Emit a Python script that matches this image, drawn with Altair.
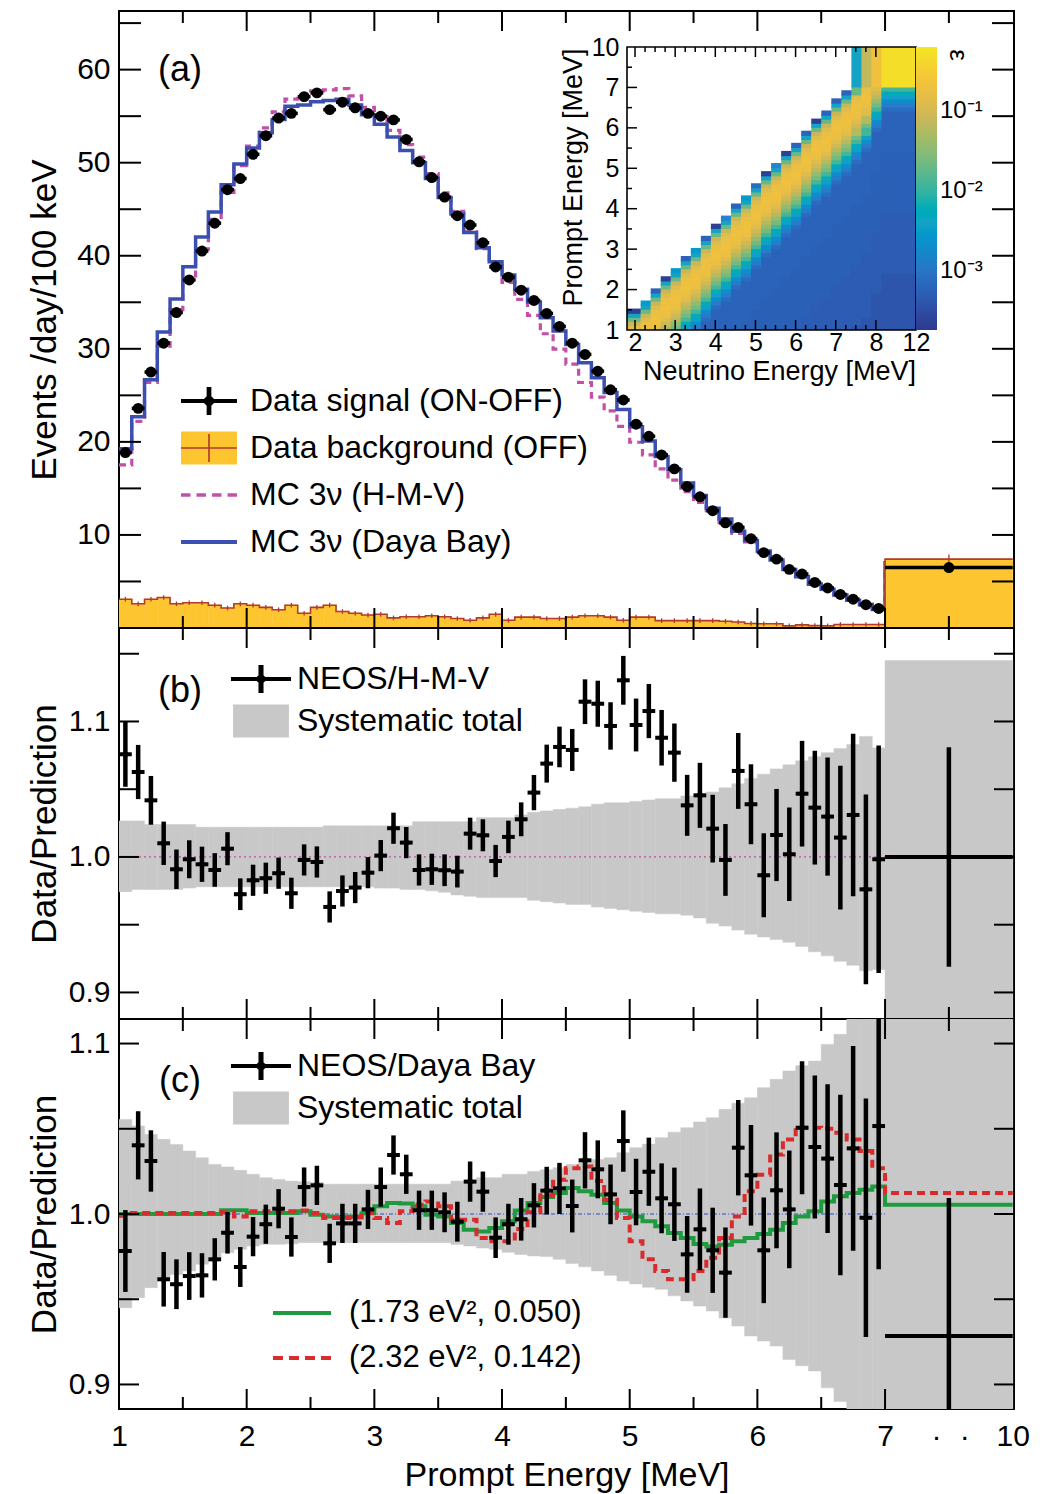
import altair as alt
import pandas as pd

FONT = "Liberation Sans"

# ---------------- data ----------------
# prompt-energy bins (MeV): 0.1 MeV bins from 1 to 7, plus one 7-10 MeV bin
bin_edges_mev = [round(1.0 + 0.1 * i, 1) for i in range(61)] + [10.0]

signal = [18.85, 23.6, 27.5, 30.6, 33.9, 37.4, 40.5, 43.5, 47.1, 48.3,
          50.9, 52.9, 54.8, 55.3, 57.1, 57.5, 55.7, 56.5, 55.9, 55.3,
          55.0, 54.6, 52.5, 50.1, 48.4, 46.3, 44.3, 43.3, 41.4, 38.8,
          37.7, 36.3, 35.2, 33.8, 32.4, 30.6, 29.4, 27.6, 25.6, 24.5,
          21.9, 20.6, 18.6, 17.1, 15.2, 14.1, 12.6, 11.3, 10.8, 9.6,
          8.1, 7.4, 6.3, 5.8, 4.9, 4.3, 3.6, 3.1, 2.5, 2.1, 6.5]

mc_hmv = [17.52, 22.21, 26.40, 30.29, 34.21, 37.46, 40.72, 43.92, 46.81, 49.67,
          51.79, 53.74, 55.47, 56.82, 57.23, 57.71, 57.83, 57.95, 57.19, 55.95,
          54.95, 53.47, 51.95, 50.59, 48.84, 46.76, 44.78, 42.57, 40.75, 38.92,
          37.15, 35.32, 33.60, 31.62, 29.97, 28.36, 26.38, 24.80, 23.34, 21.67,
          19.96, 18.60, 17.10, 15.88, 14.64, 13.49, 12.34, 11.32, 10.16, 9.24,
          8.21, 7.28, 6.29, 5.54, 4.73, 4.18, 3.55, 3.01, 2.56, 2.10, 6.5]

mc_daya = [19.27, 22.69, 26.67, 31.82, 35.36, 38.81, 42.01, 44.69, 47.62, 49.85,
           51.59, 53.22, 54.63, 56.06, 56.21, 56.55, 56.67, 56.81, 56.21, 55.15,
           54.14, 52.77, 51.30, 49.99, 48.29, 46.25, 44.50, 42.49, 40.86, 39.35,
           37.93, 36.41, 35.02, 33.34, 31.92, 30.46, 28.50, 26.90, 25.31, 23.49,
           21.62, 20.10, 18.43, 17.00, 15.57, 14.23, 12.87, 11.70, 10.40, 9.39,
           8.28, 7.30, 6.28, 5.52, 4.71, 4.16, 3.54, 2.99, 2.51, 2.00, 7.0]

background = [3.09, 2.60, 3.09, 3.28, 2.60, 2.71, 2.71, 2.45, 2.15, 2.60,
              2.45, 2.22, 1.96, 2.45, 1.58, 2.22, 2.45, 1.77, 1.58, 1.39,
              1.47, 1.09, 1.21, 1.21, 1.32, 1.21, 1.02, 0.83, 1.09, 1.47,
              0.83, 1.17, 1.17, 1.02, 1.02, 1.17, 1.32, 1.32, 1.17, 0.83,
              1.17, 1.17, 0.79, 0.79, 0.79, 0.79, 0.79, 0.72, 0.64, 0.49,
              0.45, 0.45, 0.23, 0.34, 0.26, 0.23, 0.38, 0.38, 0.38, 0.38, 7.4]
bg_err = [0.25] * 60 + [0.5]

ratio_hmv = [1.0758, 1.0627, 1.0418, 1.0101, 0.9909, 0.9983, 0.9946, 0.9904, 1.0061, 0.9725,
             0.9828, 0.9843, 0.9880, 0.9732, 0.9978, 0.9963, 0.9631, 0.9749, 0.9774, 0.9884,
             1.0010, 1.0212, 1.0106, 0.9904, 0.9909, 0.9902, 0.9892, 1.0172, 1.0160, 0.9970,
             1.0148, 1.0278, 1.0475, 1.0689, 1.0812, 1.0790, 1.1146, 1.1131, 1.0967, 1.1304,
             1.0974, 1.1077, 1.0880, 1.0770, 1.0381, 1.0455, 1.0209, 0.9978, 1.0635, 1.0389,
             0.9865, 1.0162, 1.0020, 1.0467, 1.0364, 1.0298, 1.0143, 1.0310, 0.9761, 0.9983, 1.0]

ratio_daya = [0.9783, 1.0403, 1.0311, 0.9617, 0.9588, 0.9636, 0.9640, 0.9734, 0.9890, 0.9689,
              0.9867, 0.9940, 1.0031, 0.9865, 1.0158, 1.0168, 0.9828, 0.9945, 0.9945, 1.0027,
              1.0158, 1.0346, 1.0233, 1.0022, 1.0022, 1.0010, 0.9955, 1.0190, 1.0131, 0.9861,
              0.9940, 0.9969, 1.0051, 1.0137, 1.0150, 1.0047, 1.0315, 1.0262, 1.0115, 1.0428,
              1.0129, 1.0248, 1.0092, 1.0057, 0.9763, 0.9910, 0.9787, 0.9656, 1.0389, 1.0227,
              0.9787, 1.0139, 1.0027, 1.0506, 1.0393, 1.0325, 1.0170, 1.0385, 0.9978, 1.0516, 0.9284]

stat_err = [0.024, 0.020, 0.018, 0.016, 0.0146, 0.014, 0.013, 0.0124, 0.0122, 0.0117,
            0.0115, 0.0115, 0.0115, 0.0115, 0.0115, 0.0115, 0.0115, 0.0115, 0.0115, 0.0115,
            0.0115, 0.0115, 0.0115, 0.0115, 0.0115, 0.0117, 0.0117, 0.0118, 0.0118, 0.0119,
            0.012, 0.0125, 0.013, 0.014, 0.015, 0.0155, 0.0165, 0.017, 0.0175, 0.018,
            0.0195, 0.020, 0.0205, 0.0215, 0.0225, 0.024, 0.025, 0.0265, 0.028, 0.0295,
            0.031, 0.034, 0.0345, 0.039, 0.042, 0.0436, 0.053, 0.060, 0.070, 0.084, 0.081]

syst_b_hi = [1.0266, 1.0266, 1.024, 1.024, 1.024, 1.024, 1.022, 1.022, 1.022, 1.022,
             1.022, 1.022, 1.022, 1.022, 1.022, 1.022, 1.023, 1.023, 1.023, 1.023,
             1.023, 1.023, 1.023, 1.026, 1.026, 1.026, 1.026, 1.026, 1.029, 1.029,
             1.029, 1.031, 1.033, 1.034, 1.035, 1.036, 1.037, 1.039, 1.040, 1.040,
             1.041, 1.042, 1.043, 1.043, 1.045, 1.046, 1.048, 1.051, 1.054, 1.058,
             1.061, 1.065, 1.068, 1.071, 1.074, 1.077, 1.080, 1.083, 1.089, 1.0805, 1.145]
syst_b_lo = [0.9744, 0.976, 0.976, 0.976, 0.976, 0.977, 0.978, 0.978, 0.978, 0.978,
             0.978, 0.978, 0.978, 0.978, 0.978, 0.978, 0.978, 0.978, 0.978, 0.978,
             0.977, 0.977, 0.976, 0.976, 0.975, 0.974, 0.972, 0.971, 0.970, 0.970,
             0.970, 0.970, 0.968, 0.967, 0.966, 0.965, 0.965, 0.963, 0.962, 0.961,
             0.960, 0.959, 0.958, 0.958, 0.957, 0.955, 0.951, 0.949, 0.946, 0.943,
             0.941, 0.939, 0.937, 0.934, 0.930, 0.927, 0.923, 0.920, 0.916, 0.917, 0.85]

syst_c_hi = [1.0555, 1.0516, 1.0467, 1.0438, 1.0408, 1.0369, 1.0330, 1.0291, 1.0276, 1.0256,
             1.0233, 1.0213, 1.0203, 1.0193, 1.0190, 1.0185, 1.0175, 1.0175, 1.0175, 1.0175,
             1.0175, 1.0175, 1.0175, 1.0175, 1.0175, 1.0175, 1.0193, 1.0193, 1.0213, 1.0213,
             1.0233, 1.0233, 1.0250, 1.0260, 1.0272, 1.0290, 1.0301, 1.0320, 1.0330, 1.0360,
             1.0389, 1.0410, 1.0448, 1.0480, 1.0506, 1.0540, 1.0565, 1.0614, 1.0650, 1.0682,
             1.0741, 1.0790, 1.0839, 1.0870, 1.0897, 1.0995, 1.1054, 1.13, 1.13, 1.13, 1.13]
syst_c_lo = [0.9450, 0.9509, 0.9568, 0.9627, 0.9645, 0.9666, 0.9705, 0.9744, 0.9773, 0.9793,
             0.9812, 0.9822, 0.9822, 0.9825, 0.9832, 0.9832, 0.9832, 0.9832, 0.9832, 0.9832,
             0.9832, 0.9832, 0.9832, 0.9832, 0.9832, 0.9832, 0.9822, 0.9812, 0.9800, 0.9793,
             0.9775, 0.9763, 0.9754, 0.9750, 0.9734, 0.9710, 0.9690, 0.9666, 0.9640, 0.9607,
             0.9590, 0.9570, 0.9558, 0.9520, 0.9490, 0.9460, 0.9431, 0.9390, 0.9343, 0.9284,
             0.9255, 0.9225, 0.9147, 0.9110, 0.9079, 0.8980, 0.8900, 0.87, 0.87, 0.87, 0.87]

model_173 = [1.0, 1.0, 1.0, 1.0, 1.0, 1.0, 1.0, 1.0, 1.0022, 1.0022,
             1.0006, 1.0006, 1.0006, 1.0006, 1.0016, 0.9996, 0.9985, 0.9982, 0.9986, 1.0005,
             1.0045, 1.0065, 1.0062, 1.0045, 0.9995, 0.9986, 0.9947, 0.9908, 0.9898, 0.9918,
             0.9957, 1.0020, 1.0065, 1.0100, 1.0123, 1.0152, 1.0133, 1.0113, 1.0065, 1.0020,
             0.9986, 0.9957, 0.9928, 0.9889, 0.9859, 0.9824, 0.9810, 0.9820, 0.9840, 0.9859,
             0.9883, 0.9908, 0.9947, 0.9986, 1.0016, 1.0074, 1.0104, 1.0123, 1.0143, 1.0162, 1.0055]
model_232 = [0.9990, 1.0006, 1.0006, 1.0006, 1.0006, 1.0006, 1.0006, 1.0006, 1.0010, 0.9986,
             1.0016, 1.0016, 1.0016, 1.0016, 1.0020, 1.0006, 0.9976, 0.9976, 0.9980, 1.0006,
             0.9976, 0.9947, 1.0016, 1.0055, 1.0074, 1.0045, 0.9967, 0.9967, 0.9859, 0.9840,
             0.9840, 0.9912, 1.0010, 1.0110, 1.0201, 1.0269, 1.0279, 1.0193, 1.0084, 0.9976,
             0.9840, 0.9734, 0.9666, 0.9617, 0.9617, 0.9666, 0.9744, 0.9859, 0.9986, 1.0133,
             1.0231, 1.0349, 1.0437, 1.0506, 1.0506, 1.0500, 1.0477, 1.0437, 1.0369, 1.0269, 1.0123]

# inset: detector response (efficiency) map
inset_nu_edges = [1.8, 2.14, 2.39, 2.64, 2.89, 3.14, 3.39, 3.64, 3.89, 4.14, 4.39, 4.64, 4.89,
                  5.14, 5.39, 5.64, 5.89, 6.14, 6.39, 6.64, 6.89, 7.14, 7.39, 7.64, 7.89, 8.14, 9.0]
inset_col_top = [1.5, 1.7, 2.0, 2.3, 2.5, 2.8, 3.0, 3.3, 3.6, 3.8, 4.1, 4.3, 4.6, 4.9, 5.1,
                 5.4, 5.6, 5.9, 6.2, 6.4, 6.7, 6.9, 7.15, 7.45, 8.0, 8.5]
inset_edge_eff = [2.2e-4, 3e-3, 6e-4, 2.2e-4, 3e-3, 6e-4, 3e-3, 6e-4, 2.2e-4, 1.5e-3, 6e-4,
                  3e-3, 8e-4, 2.2e-4, 1.5e-3, 2.2e-4, 6e-4, 6e-4, 2.2e-4, 6e-4, 6e-4, 6e-4]
inset_depth_eff = [6e-4, 0.004, 0.02, 0.08, 0.13, 0.17, 0.19, 0.2, 0.19, 0.17,
                   0.13, 0.09, 0.06, 0.035, 0.022, 0.012, 0.006, 0.0035, 0.002, 0.0012,
                   0.0008, 0.0006, 0.0006, 0.0006, 0.0006, 0.0006, 0.0006, 0.0006, 0.0006, 0.0006,
                   0.0006, 0.00055, 0.00055, 0.00055, 0.00055, 0.00055, 0.00055, 0.00055, 0.00055,
                   0.00055, 0.00055, 0.00055, 0.00055, 0.00055, 0.00055, 0.00055, 0.00048, 0.00048,
                   0.00048, 0.00048, 0.00048, 0.00048, 0.00048, 0.00048, 0.00048, 0.00048, 0.00048,
                   0.00048, 0.00048, 0.00048, 0.00048, 0.0004, 0.0004, 0.0004, 0.0004, 0.0004,
                   0.0004, 0.0004, 0.0004, 0.0004, 0.0004, 0.0004, 0.0004, 0.0004, 0.0004, 0.0004]
inset_high_cols = [22, 23, 24, 25]
inset_high_eff = [0.004, 0.07, 0.2, 0.5]

# axis ticks / labels
x_label_vals = [1, 2, 3, 4, 5, 6, 7, 7.4, 7.62, 8]
x_tick_major = [2, 3, 4, 5, 6, 7]
x_tick_minor = [1.5, 2.5, 3.5, 4.5, 5.5, 6.5, 7.5]
ya_labels = [10, 20, 30, 40, 50, 60]
ya_ticks = [5, 10, 15, 20, 25, 30, 35, 40, 45, 50, 55, 60, 65]
yb_labels = [0.9, 1.0, 1.1]
yb_ticks = [0.9, 0.95, 1.0, 1.05, 1.1, 1.15]
yc_ticks = [0.9, 0.95, 1.0, 1.05, 1.1]
ix_labels = [2, 3, 4, 5, 6, 7, 8, 9]
ix_major = [2, 3, 4, 5, 6, 7, 8]
ix_minor = [2.25, 2.5, 2.75, 3.25, 3.5, 3.75, 4.25, 4.5, 4.75, 5.25, 5.5, 5.75,
            6.25, 6.5, 6.75, 7.25, 7.5, 7.75]
iy_labels = [1, 2, 3, 4, 5, 6, 7, 8]
iy_major = [2, 3, 4, 5, 6, 7]
iy_minor = [1.5, 2.5, 3.5, 4.5, 5.5, 6.5, 7.5]
cbar_labels = [0.001, 0.01, 0.1]

leg_a_labels = ["Data signal (ON-OFF)", "Data background (OFF)", "MC 3\u03bd (H-M-V)", "MC 3\u03bd (Daya Bay)"]
leg_b_labels = ["NEOS/H-M-V", "Systematic total"]
leg_c_labels = ["NEOS/Daya Bay", "Systematic total "]
leg_m_labels = ["(1.73 eV\u00b2, 0.050)", "(2.32 eV\u00b2, 0.142)"]

# ---------------- styles ----------------
YEL = "#fdc52f"
BGRED = "#b23a2e"
MAG = "#c24fa8"
BLUE = "#3b4fb0"
GRAY = "#c8c8c8"
GREEN = "#1f9a3f"
RED = "#d92b2b"
PALETTE = ["#2d3a8c", "#2c5db5", "#2a80cc", "#19a2c6", "#3bb49e", "#86bb78", "#cdb75a", "#f5c23a", "#f2e622"]

W = 895
HA, HB, HC = 617, 391, 390
IN_L, IN_R, IN_T, IN_B = 508, 797, 36, 319
TICK_FS = 30
TITLE_FS = 35
LEG_FS = 32
CELL_OVERLAP = 0.03   # tiny overlap of heat-map cells to hide antialiasing seams


def disp(e):
    # axis break: 7-10 MeV is drawn as one unit
    return e if e <= 7.0 else 7.0 + (e - 7.0) / 3.0


lo = [disp(e) for e in bin_edges_mev[:-1]]
hi = [disp(e) for e in bin_edges_mev[1:]]
mid = [(a + b) / 2 for a, b in zip(lo, hi)]

bins = pd.DataFrame(dict(
    lo=lo, hi=hi, mid=mid, zero=[0.0] * len(lo),
    sig=signal, bg=background,
    bglo=[b - e for b, e in zip(background, bg_err)],
    bghi=[b + e for b, e in zip(background, bg_err)],
    rb=ratio_hmv, rblo=[r - e for r, e in zip(ratio_hmv, stat_err)],
    rbhi=[r + e for r, e in zip(ratio_hmv, stat_err)],
    rc=ratio_daya, rclo=[r - e for r, e in zip(ratio_daya, stat_err)],
    rchi=[r + e for r, e in zip(ratio_daya, stat_err)],
    sblo=syst_b_lo, sbhi=syst_b_hi, sclo=syst_c_lo, schi=syst_c_hi,
))

step = pd.DataFrame(dict(
    x=lo + [hi[-1]],
    hmv=mc_hmv + [mc_hmv[-1]], db=mc_daya + [mc_daya[-1]], bg=background + [background[-1]],
    g=model_173 + [model_173[-1]], r=model_232 + [model_232[-1]],
))

ref_line = pd.DataFrame(dict(x0=[1.0], x1=[7.0], y=[1.0]))

# inset cells
cells = []
for k in range(len(inset_col_top)):
    x0, x1 = inset_nu_edges[k], inset_nu_edges[k + 1]
    top = inset_col_top[k]
    for j in range(60):
        y0 = 1.0 + 0.1 * j
        y1 = y0 + 0.1
        if y1 > top + 1e-6:
            continue
        d = int(round((top - y1) / 0.1))
        if d == 0 and k < len(inset_edge_eff):
            v = inset_edge_eff[k]
        else:
            v = inset_depth_eff[min(d, len(inset_depth_eff) - 1)]
        cells.append(dict(x0=x0, x1=x1, y0=y0, y1=y1, eff=v))
for k, v in zip(inset_high_cols, inset_high_eff):
    cells.append(dict(x0=inset_nu_edges[k], x1=inset_nu_edges[k + 1], y0=7.0, y1=8.0, eff=v))
cells = pd.DataFrame(cells)
cells["x1d"] = [min(v + CELL_OVERLAP, 9.0) for v in cells["x1"]]
cells["y1d"] = [min(v + CELL_OVERLAP, 8.0) if v < 7.999 else v for v in cells["y1"]]

# ---------------- scales / axes ----------------
XS = alt.Scale(domain=[1.0, 8.01], nice=False, zero=False)
YA = alt.Scale(domain=[0.0, 66.3], nice=False, zero=False)
YB = alt.Scale(domain=[0.8804, 1.169], nice=False, zero=False)
YC = alt.Scale(domain=[0.8856, 1.1144], nice=False, zero=False)


def yaxis(values, fmt, title, h):
    return alt.Axis(values=values, format=fmt, title=title, ticks=False, domain=False, grid=False,
                    labelFontSize=TICK_FS, labelPadding=9, labelFlush=False, labelOverlap=False,
                    titleFontSize=TITLE_FS, titleFontWeight="normal", titleX=-64, titleY=h / 2,
                    titleAngle=270, titleAlign="center", titleBaseline="alphabetic")


AXA = yaxis(ya_labels, "d", "Events /day/100 keV", HA)
AXB = yaxis(yb_labels, ".1f", "Data/Prediction", HB)
AXC = yaxis(yb_labels, ".1f", "Data/Prediction", HC)
XAXC = alt.Axis(values=x_label_vals, ticks=False, domain=False, grid=False,
                labelExpr="datum.value >= 8 ? '10' : (datum.value > 7.05 ? '\u00b7' : format(datum.value, 'd'))",
                labelFontSize=TICK_FS, labelPadding=12, labelFlush=False, labelOverlap=False,
                title="Prompt Energy [MeV]", titleFontSize=34, titleFontWeight="normal",
                titleX=W / 2, titleY=76, titleAlign="center", titleBaseline="alphabetic")


def rect_path(x0, x1, y0, y1):
    return f"M{x0},{y0}H{x1}V{y1}H{x0}Z"


# zero-area marks at y=+-1 so every legend symbol has the same height
SYM_EXTENT = "M0,-1L0,-1M0,1L0,1"


def xticks(xax, h):
    layers = []
    for vals, ln in ((x_tick_major, 20), (x_tick_minor, 12)):
        df = pd.DataFrame({"v": vals})
        for y0, y1 in ((h, h - ln), (0, ln)):
            layers.append(alt.Chart(df).mark_rule(color="black", strokeWidth=2).encode(
                x=alt.X("v:Q", scale=XS, axis=xax), y=alt.value(y0), y2=alt.value(y1)))
    return layers


def yticks(vals, ys, yax, ln):
    df = pd.DataFrame({"v": vals})
    return [alt.Chart(df).mark_rule(color="black", strokeWidth=2).encode(
        y=alt.Y("v:Q", scale=ys, axis=yax), x=alt.value(x0), x2=alt.value(x1))
        for x0, x1 in ((0, ln), (W, W - ln))]


def panel_label(txt, x, y):
    return alt.Chart(pd.DataFrame({"t": [txt]})).mark_text(
        fontSize=36, align="center", baseline="middle", color="black").encode(
        text="t:N", x=alt.value(x), y=alt.value(y))


def legend_layer(labels, colors, shapes, r, lx, ly, offset, field, fs=LEG_FS, label_opacity=1):
    leg = alt.Legend(orient="none", legendX=lx, legendY=ly, title=None, labelFontSize=fs,
                     labelOffset=offset, symbolSize=(2 * r) ** 2, symbolStrokeWidth=0,
                     rowPadding=0, labelLimit=800, labelColor="black", padding=0,
                     labelOpacity=label_opacity)
    shapes = [s + SYM_EXTENT for s in shapes]
    return alt.Chart(pd.DataFrame({field: labels})).mark_point(filled=True, clip=True, opacity=1).encode(
        x=alt.value(W / 2), y=alt.value(-3000),
        color=alt.Color(f"{field}:N", scale=alt.Scale(domain=labels, range=colors), legend=leg),
        shape=alt.Shape(f"{field}:N", scale=alt.Scale(domain=labels, range=shapes), legend=leg))


# ---------------- panel (a) ----------------
xa = lambda f: alt.X(f, type="quantitative", scale=XS, axis=None)
ya = lambda f: alt.Y(f, type="quantitative", scale=YA, axis=AXA)

hmv_line = alt.Chart(step).mark_line(interpolate="step-after", color=MAG, strokeWidth=3.2,
                                     strokeDash=[7, 5], clip=True).encode(x=xa("x"), y=ya("hmv"))
db_line = alt.Chart(step).mark_line(interpolate="step-after", color=BLUE, strokeWidth=3.5,
                                    clip=True).encode(x=xa("x"), y=ya("db"))
bg_rect = alt.Chart(bins).mark_rect(color=YEL, stroke=YEL, strokeWidth=0.5, clip=True).encode(
    x=xa("lo"), x2="hi", y=ya("bg"), y2="zero")
bg_line = alt.Chart(step).mark_line(interpolate="step-after", color=BGRED, strokeWidth=1.6,
                                    clip=True).encode(x=xa("x"), y=ya("bg"))
bg_bar = alt.Chart(bins).mark_rule(color=BGRED, strokeWidth=1.3, clip=True).encode(
    x=xa("mid"), y=ya("bglo"), y2="bghi")
sig_h = alt.Chart(bins).mark_rule(color="black", strokeWidth=3.5, clip=True).encode(
    x=xa("lo"), x2="hi", y=ya("sig"))
sig_pt = alt.Chart(bins).mark_point(shape="circle", filled=True, size=120, color="black",
                                    opacity=1, clip=True).encode(x=xa("mid"), y=ya("sig"))

ra = 23.5
shapes_a = [
    rect_path(-1.19, 1.19, -0.085, 0.085) + rect_path(-0.1, 0.1, -0.6, 0.6) + "M0,-0.3L0.3,0L0,0.3L-0.3,0Z",
    rect_path(-1.19, 1.19, -0.7, 0.7),
    rect_path(-1.19, -0.79, -0.075, 0.075) + rect_path(-0.53, -0.13, -0.075, 0.075)
    + rect_path(0.13, 0.53, -0.075, 0.075) + rect_path(0.79, 1.19, -0.075, 0.075),
    rect_path(-1.19, 1.19, -0.08, 0.08),
]
leg_a = legend_layer(leg_a_labels, ["black", YEL, MAG, BLUE], shapes_a, ra, 66.5, 366.5, 17.5, "entry_a")
# thin red cross drawn over the yellow legend box (background error bar symbol)
leg_a_cross = legend_layer([leg_a_labels[1] + " "], [BGRED],
                           [rect_path(-1.19, 1.19, -0.035, 0.035) + rect_path(-0.035, 0.035, -0.6, 0.6)],
                           ra, 66.5, 366.5 + 2 * ra, 17.5, "entry_ax", label_opacity=0)

main_a = alt.layer(
    hmv_line, db_line, bg_rect, bg_line, bg_bar, sig_h, sig_pt,
    *xticks(None, HA), *yticks(ya_ticks, YA, AXA, 22),
    panel_label("(a)", 61, 59), leg_a, leg_a_cross,
).resolve_scale(color="independent", shape="independent")

# inset
ISX = alt.Scale(domain=[1.8, 9.0], range=[IN_L, IN_R], nice=False, zero=False)
ISY = alt.Scale(domain=[1.0, 8.0], range=[IN_B, IN_T], nice=False, zero=False)
IAX = alt.Axis(orient="bottom", offset=-(HA - IN_B), values=ix_labels, ticks=False, domain=False,
               grid=False, labelExpr="datum.value >= 9 ? '12' : format(datum.value, 'd')",
               labelFontSize=25, labelPadding=0, labelFlush=False, labelOverlap=False,
               title="Neutrino Energy [MeV]", titleFontSize=27, titleFontWeight="normal",
               titleX=660, titleY=49, titleAlign="center", titleBaseline="alphabetic")
IAY = alt.Axis(orient="left", offset=-IN_L, values=iy_labels, ticks=False, domain=False,
               grid=False, labelExpr="datum.value >= 8 ? '10' : format(datum.value, 'd')",
               labelFontSize=25, labelPadding=8, labelFlush=False, labelOverlap=False,
               title="Prompt Energy [MeV]", titleFontSize=27, titleFontWeight="normal",
               titleX=-46, titleY=166, titleAngle=270, titleAlign="center", titleBaseline="alphabetic")
CSC = alt.Scale(type="log", domain=[1.8e-4, 0.63], range=PALETTE, clamp=True)
CLEG = alt.Legend(type="gradient", orient="none", legendX=IN_R, legendY=IN_T, direction="vertical",
                  gradientLength=IN_B - IN_T, gradientThickness=21, title=None,
                  values=cbar_labels, gradientStrokeWidth=0, labelFontSize=24,
                  labelOffset=3, labelColor="black",
                  labelExpr="datum.value > 0.05 ? '10\u207b\u00b9' : (datum.value > 0.005 ? '10\u207b\u00b2' : '10\u207b\u00b3')")

heat = alt.Chart(cells).mark_rect(strokeWidth=0).encode(
    x=alt.X("x0:Q", scale=ISX, axis=IAX), x2="x1d:Q",
    y=alt.Y("y0:Q", scale=ISY, axis=IAY), y2="y1d:Q",
    color=alt.Color("eff:Q", scale=CSC, legend=CLEG))

inset_layers = [heat]
for vals, ln in ((ix_major, 10), (ix_minor, 5)):
    df = pd.DataFrame({"v": vals})
    for y0, y1 in ((IN_B, IN_B - ln), (IN_T, IN_T + ln)):
        inset_layers.append(alt.Chart(df).mark_rule(color="black", strokeWidth=1.5).encode(
            x=alt.X("v:Q", scale=ISX, axis=IAX), y=alt.value(y0), y2=alt.value(y1)))
for vals, ln in ((iy_major, 10), (iy_minor, 5)):
    df = pd.DataFrame({"v": vals})
    inset_layers.append(alt.Chart(df).mark_rule(color="black", strokeWidth=1.5).encode(
        y=alt.Y("v:Q", scale=ISY, axis=IAY), x=alt.value(IN_L), x2=alt.value(IN_L + ln)))
inset_layers.append(alt.Chart(pd.DataFrame({"a": [0]})).mark_rect(
    fillOpacity=0, stroke="black", strokeWidth=1.6).encode(
    x=alt.value(IN_L), x2=alt.value(IN_R), y=alt.value(IN_T), y2=alt.value(IN_B)))
inset_layers.append(alt.Chart(pd.DataFrame({"t": ["\u03b5"]})).mark_text(
    fontSize=26, angle=90, color="black").encode(text="t:N", x=alt.value(IN_R + 42), y=alt.value(IN_T + 8)))
inset = alt.layer(*inset_layers)

pa = alt.layer(main_a, inset).resolve_scale(
    x="independent", y="independent", color="independent", shape="independent"
).properties(width=W, height=HA)


# ---------------- ratio panels ----------------
def ratio_panel(h, ys, yax, xax, rcol, locol, hicol, slo, shi, ytk, extra_lines, label, legends,
                ref_color, ref_dash):
    xr = lambda f: alt.X(f, type="quantitative", scale=XS, axis=xax)
    yr = lambda f: alt.Y(f, type="quantitative", scale=ys, axis=yax)
    band = alt.Chart(bins).mark_rect(color=GRAY, stroke=GRAY, strokeWidth=0.5, clip=True).encode(
        x=xr("lo"), x2="hi", y=yr(slo), y2=shi)
    ref = alt.Chart(ref_line).mark_rule(color=ref_color, strokeWidth=1.2, strokeDash=ref_dash,
                                        clip=True).encode(x=xr("x0"), x2="x1", y=yr("y"))
    lines = [alt.Chart(step).mark_line(interpolate="step-after", color=c, strokeWidth=4,
                                       strokeDash=dsh, clip=True).encode(x=xr("x"), y=yr(f))
             for f, c, dsh in extra_lines]
    ev = alt.Chart(bins).mark_rule(color="black", strokeWidth=4.5, clip=True).encode(
        x=xr("mid"), y=yr(locol), y2=hicol)
    eh = alt.Chart(bins).mark_rule(color="black", strokeWidth=4, clip=True).encode(
        x=xr("lo"), x2="hi", y=yr(rcol))
    pt = alt.Chart(bins).mark_point(shape="diamond", filled=True, size=75, color="black",
                                    opacity=1, clip=True).encode(x=xr("mid"), y=yr(rcol))
    return alt.layer(band, ref, *lines, ev, eh, pt, *xticks(xax, h), *yticks(ytk, ys, yax, 20),
                     label, *legends)


rb_ = 21.0
cross_b = (rect_path(-1.43, 1.43, -0.1, 0.1) + rect_path(-0.12, 0.12, -0.67, 0.67)
           + "M0,-0.3L0.3,0L0,0.3L-0.3,0Z")
box_b = rect_path(-1.33, 1.33, -0.79, 0.79)
leg_b = legend_layer(leg_b_labels, ["black", GRAY], [cross_b, box_b], rb_, 121, 30, 15, "entry_b")
leg_c = legend_layer(leg_c_labels, ["black", GRAY], [cross_b, box_b], rb_, 121, 26, 15, "entry_c")
rm = 22.5
shapes_m = [rect_path(-1.29, 1.29, -0.09, 0.09),
            rect_path(-1.29, -0.846, -0.09, 0.09) + rect_path(-0.579, -0.135, -0.09, 0.09)
            + rect_path(0.132, 0.576, -0.09, 0.09) + rect_path(0.843, 1.287, -0.09, 0.09)]
leg_m = legend_layer(leg_m_labels, [GREEN, RED], shapes_m, rm, 160.5, 271.5, 24.5, "entry_m", fs=31)

pb = ratio_panel(HB, YB, AXB, None, "rb", "rblo", "rbhi", "sblo", "sbhi", yb_ticks, [],
                 panel_label("(b)", 61, 63), [leg_b], MAG, [2, 3]).properties(width=W, height=HB)

pc = ratio_panel(HC, YC, AXC, XAXC, "rc", "rclo", "rchi", "sclo", "schi", yc_ticks,
                 [("g", GREEN, [1, 0]), ("r", RED, [8, 5])],
                 panel_label("(c)", 61, 62), [leg_c, leg_m], "#2a4fd0", [4, 2, 1, 2]).resolve_scale(
    color="independent", shape="independent").properties(width=W, height=HC)

chart = alt.vconcat(pa, pb, pc, spacing=0, bounds="flush").resolve_scale(
    color="independent", shape="independent"
).resolve_legend(color="independent", shape="independent").properties(
    padding={"left": 26, "top": 9, "right": 5, "bottom": 5},
).configure(font=FONT).configure_view(stroke="black", strokeWidth=2).configure_axis(
    labelColor="black", titleColor="black", labelFont=FONT, titleFont=FONT
).configure_legend(labelFont=FONT)

chart.save("out.html", embed_options={"renderer": "svg", "actions": False})
